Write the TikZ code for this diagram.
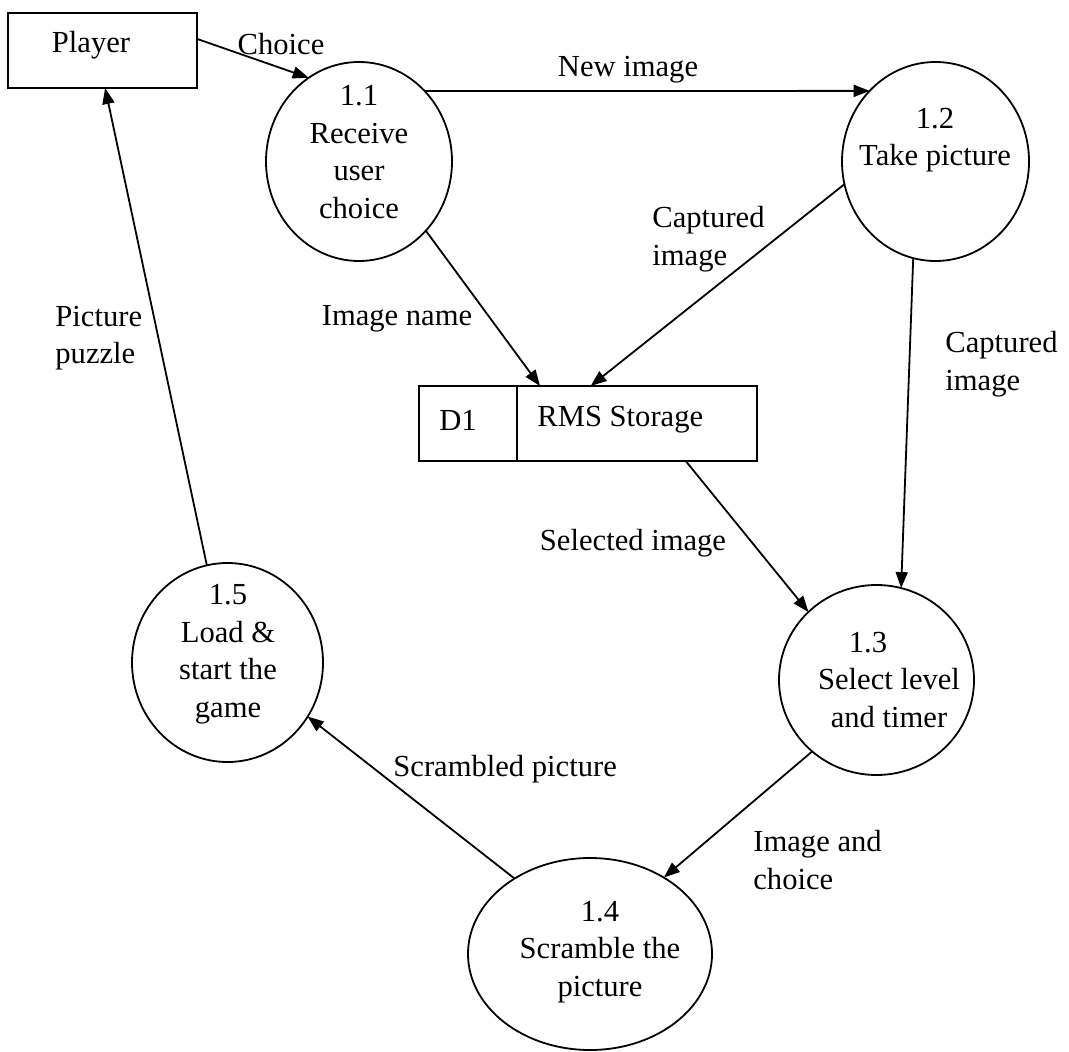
\documentclass[tikz,border=0pt]{standalone}
\usepackage{fontspec}
\setmainfont{Liberation Serif}
\usetikzlibrary{arrows.meta,shapes.geometric}
\begin{document}
\begin{tikzpicture}[x={(0.5pt,0pt)},y={(0pt,-0.5pt)},
  every node/.style={font=\fontsize{15.3}{18.75}\selectfont, inner sep=0pt},
  proc/.style={draw, ellipse, line width=0.9pt, outer sep=0pt},
  entity/.style={draw, rectangle, line width=0.9pt, outer sep=0pt},
  flow/.style={line width=0.9pt, -{Triangle[length=8pt,width=6pt]}},
  plain/.style={line width=0.9pt},
  lbl/.style={align=center},
  lbll/.style={align=left, anchor=west}]
\useasboundingbox (0,0) rectangle (1069,1052);
% shapes
\node[entity, minimum width=94.5pt, minimum height=37.5pt] (player) at (102.5,50.5) {};
\node (tplayer) at (91,45) {Player};
\node[proc, minimum width=93pt, minimum height=99.5pt] (p11) at (359,161.5) {};
\node[proc, minimum width=93.5pt, minimum height=99.5pt] (p12) at (935.5,161.5) {};
\node[proc, minimum width=97.5pt, minimum height=95pt] (p13) at (876.5,680) {};
\node[proc, minimum width=122pt, minimum height=96pt] (p14) at (590,954) {};
\node[proc, minimum width=95.5pt, minimum height=99.5pt] (p15) at (227.5,662.5) {};
\node[entity, minimum width=169pt, minimum height=37.5pt] (store) at (588,423.5) {};
\draw[plain] ([xshift=49pt]store.north west) -- ([xshift=49pt]store.south west);
\node (td1) at (458,420) {D1};
\node[anchor=west] (trms) at (537,420) {RMS Storage};
% process texts
\node[lbl] (t11) at (359,152) {1.1\\Receive\\user\\choice};
\node[lbl] (t12) at (935,140) {1.2\\Take picture};
\node[lbl] (t13) at (889,680) {1.3\hspace*{21pt}\\Select level\\and timer};
\node[lbl] (t14) at (600,952) {1.4\\Scramble the\\picture};
\node[lbl] (t15) at (228,654) {1.5\\Load \&\\start the\\game};
% flows
\draw[flow] (player.7.5) -- (p11.121);
\draw[flow] (p11.47.2) -- (p12.133.4);
\draw[flow] (p11.-46) -- (store.142);
\draw[flow] (p12.194.3) -- (store.86.9);
\draw[flow] (p12.257.4) -- (p13.75);
\draw[flow] (store.-21.1) -- (p13.135.6);
\draw[flow] (p13.228.3) -- (p14.46.2);
\draw[flow] (p14.135.4) -- (p15.-34.4);
\draw[flow] (p15.102.7) -- (player.-86.2);
% flow labels
\node (lchoice) at (281,44) {Choice};
\node (lnew) at (628,70) {New image};
\node (lname) at (397,319) {Image name};
\node[lbll] (lcap1) at (652,239) {Captured\\image};
\node[lbll] (lcap2) at (945,364) {Captured\\image};
\node (lsel) at (633,543) {Selected image};
\node[lbll] (limg) at (753,860) {Image and\\choice};
\node[anchor=west] (lscr) at (393,769) {Scrambled picture};
\node[lbll] (lpuz) at (55,338) {Picture\\puzzle};
\end{tikzpicture}
\end{document}
